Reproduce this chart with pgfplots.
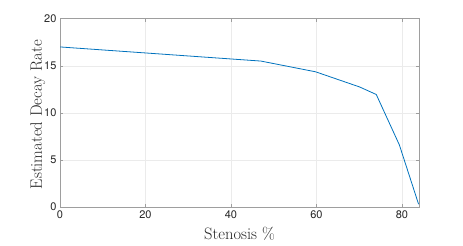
\documentclass[border=0pt]{standalone}
\usepackage{fontspec}
\usepackage{pgfplots}
\pgfplotsset{compat=1.18}
\newfontfamily\heros{TeX Gyre Heros}
\definecolor{mblue}{rgb}{0,0.447,0.741}
\definecolor{axgray}{gray}{0.62}
\definecolor{gridgray}{gray}{0.92}
\begin{document}
\begin{tikzpicture}
\begin{axis}[
  name=ax,
  scale only axis,
  width=359pt, height=188.3pt,
  xmin=0, xmax=84, ymin=0, ymax=20,
  xtick={0,20,40,60,80},
  ytick={0,5,10,15,20},
  grid=major,
  major grid style={gridgray, line width=0.4pt},
  axis line style={axgray, line width=0.6pt},
  tick style={axgray, line width=0.5pt},
  tick align=inside,
  major tick length=3pt,
  /pgf/number format/assume math mode=true,
  tick label style={font=\heros\fontsize{11}{13}\selectfont, text=black!85},
  xlabel={Stenosis \%},
  ylabel={Estimated Decay Rate},
  label style={font=\fontsize{16.5}{19}\selectfont, text=black!85, inner sep=0pt},
  xlabel style={at={(axis description cs:0.5,-0.175)}, anchor=base},
  ylabel style={at={(axis description cs:-0.083,0.49)}, anchor=north},
]
\addplot[mblue, line width=0.8pt] coordinates {
  (0,17.0) (47,15.5) (59.8,14.36) (70.1,12.75) (74,11.95) (79.4,6.6) (83.9,0.3)
};
\end{axis}
\path ([xshift=-60pt,yshift=-38pt]ax.south west) rectangle ([xshift=44pt,yshift=18.7pt]ax.north east);
\end{tikzpicture}
\end{document}
